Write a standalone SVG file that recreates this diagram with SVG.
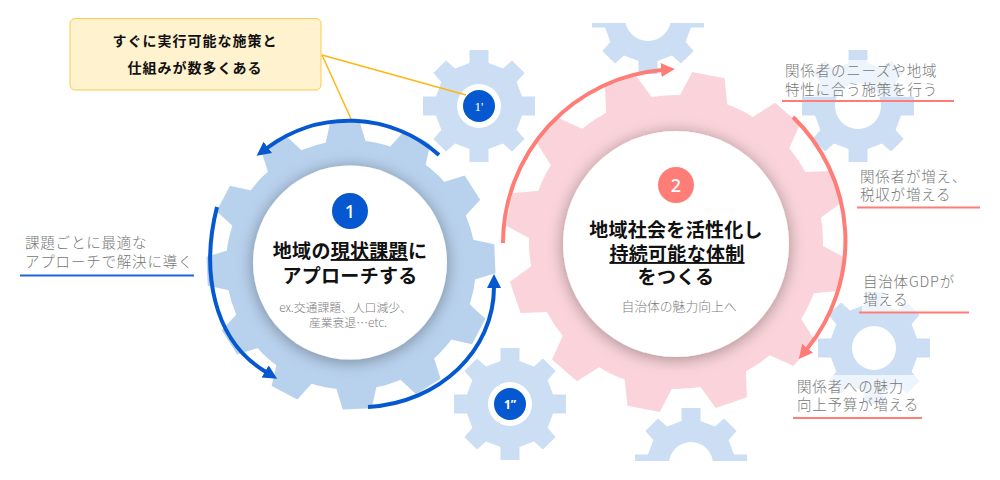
<svg xmlns="http://www.w3.org/2000/svg" width="1000" height="480" viewBox="0 0 1000 480">
<style>
text{font-family:"Noto Sans CJK JP","Noto Sans",sans-serif}
.sg{fill:#cbdef4}
.hole{fill:#fff}
.title{font-size:19px;font-weight:700;fill:#111;text-anchor:middle;letter-spacing:.3px}
.sub{fill:#7c7c7c;text-anchor:middle;font-weight:300}
.lab{font-size:14.500px;fill:#777;font-weight:300;letter-spacing:.8px}
.badge{fill:#fff;text-anchor:middle;font-family:"Noto Sans",sans-serif;font-weight:500}
.bl{stroke:#0558cf;fill:none;stroke-width:4}
.rl{stroke:#ff7d77;fill:none;stroke-width:4}
.ul{fill:none;stroke-width:2}
.wash{fill:#fff;opacity:.65}
.call{stroke:#ffb612;stroke-width:1.500;fill:none}
.calltext{font-size:14px;font-weight:700;fill:#111;text-anchor:middle;letter-spacing:1px}
</style>
<defs>
<clipPath id="page"><rect x="0" y="23" width="1000" height="438"/></clipPath>
<filter id="sh" x="-30%" y="-30%" width="160%" height="160%"><feDropShadow dx="0" dy="2" stdDeviation="8" flood-color="#000" flood-opacity=".35"/></filter>
<marker id="ab" markerUnits="userSpaceOnUse" markerWidth="20" markerHeight="20" refX="1" refY="8" orient="auto"><path d="M0,1L14,8L0,15z" fill="#0558cf"/></marker>
<marker id="ar" markerUnits="userSpaceOnUse" markerWidth="20" markerHeight="20" refX="1" refY="8" orient="auto"><path d="M0,1L14,8L0,15z" fill="#ff7d77"/></marker>
<path id="g8" d="M-9.500,-56L9.500,-56L9.500,-43L24,-37.600L33,-45.600L45.600,-33L37.600,-24L43,-9.500L56,-9.500L56,9.500L43,9.500L37.600,24L45.600,33L33,45.600L24,37.600L9.500,43L9.500,56L-9.500,56L-9.500,43L-24,37.600L-33,45.600L-45.600,33L-37.600,24L-43,9.500L-56,9.500L-56,-9.500L-43,-9.500L-37.600,-24L-45.600,-33L-33,-45.600L-24,-37.600L-9.500,-43z"/>
<path id="t1" d="M-20,-123L-14.500,-144L14.500,-144L20,-123L20,0L-20,0z"/>
<path id="t2" d="M-24,-145L-16.500,-170L16.500,-170L24,-145L24,0L-24,0z"/>
</defs>
<g clip-path="url(#page)">
<g id="gear-top" class="sg"><use href="#g8" transform="translate(648,18)"/><circle class="hole" cx="648" cy="18" r="23"/></g>
<g id="gear-right-upper" class="sg"><use href="#g8" transform="translate(858,106)"/><circle class="hole" cx="858" cy="106" r="23"/></g>
<g id="gear-right-lower" class="sg"><use href="#g8" transform="translate(874,348)"/><circle class="hole" cx="874" cy="348" r="22"/></g>
<g id="gear-bottom" class="sg"><use href="#g8" transform="translate(691,464)"/><circle class="hole" cx="691" cy="464" r="22"/></g>
</g>
<g id="gear-1a" class="sg"><use href="#g8" transform="translate(479,106)"/><circle class="hole" cx="479" cy="106" r="22"/><circle cx="479" cy="106" r="16" fill="#0558cf"/><text class="badge" x="479" y="110.500" font-size="13" style="font-family:'Liberation Serif',serif;font-weight:400">1'</text></g>
<g id="gear-1b" class="sg"><use href="#g8" transform="translate(510,404)"/><circle class="hole" cx="510" cy="404" r="22"/><circle cx="510" cy="404" r="16" fill="#0558cf"/><text class="badge" x="510" y="409" font-size="12" style="font-weight:700">1”</text></g>
<g id="gear-1">
<g fill="#b8d1ed">
<circle cx="351" cy="265" r="125"/>
<use href="#t1" transform="translate(351,265) rotate(-2.500)"/><use href="#t1" transform="translate(351,265) rotate(27.500)"/><use href="#t1" transform="translate(351,265) rotate(57.500)"/><use href="#t1" transform="translate(351,265) rotate(87.500)"/><use href="#t1" transform="translate(351,265) rotate(117.500)"/><use href="#t1" transform="translate(351,265) rotate(147.500)"/><use href="#t1" transform="translate(351,265) rotate(177.500)"/><use href="#t1" transform="translate(351,265) rotate(207.500)"/><use href="#t1" transform="translate(351,265) rotate(237.500)"/><use href="#t1" transform="translate(351,265) rotate(267.500)"/><use href="#t1" transform="translate(351,265) rotate(297.500)"/><use href="#t1" transform="translate(351,265) rotate(327.500)"/>
</g>
<circle cx="350" cy="262.500" r="97" fill="#fff" filter="url(#sh)"/>
<circle cx="350" cy="211" r="18" fill="#0558cf"/>
<text class="badge" x="350" y="217.500" font-size="18">1</text>
<text class="title" x="350" y="258">地域の<tspan text-decoration="underline">現状課題</tspan>に</text>
<text class="title" x="350" y="283">アプローチする</text>
<text class="sub" x="345.500" y="312" font-size="11.800">ex.交通課題、人口減少、</text>
<text class="sub" x="348" y="327" font-size="11.800">産業衰退…etc.</text>
</g>
<g id="gear-2">
<g fill="#fad4da">
<circle cx="676" cy="242" r="147"/>
<use href="#t2" transform="translate(676,242) rotate(11)"/><use href="#t2" transform="translate(676,242) rotate(41)"/><use href="#t2" transform="translate(676,242) rotate(71)"/><use href="#t2" transform="translate(676,242) rotate(101)"/><use href="#t2" transform="translate(676,242) rotate(131)"/><use href="#t2" transform="translate(676,242) rotate(161)"/><use href="#t2" transform="translate(676,242) rotate(191)"/><use href="#t2" transform="translate(676,242) rotate(221)"/><use href="#t2" transform="translate(676,242) rotate(251)"/><use href="#t2" transform="translate(676,242) rotate(281)"/><use href="#t2" transform="translate(676,242) rotate(311)"/><use href="#t2" transform="translate(676,242) rotate(341)"/>
</g>
<circle cx="676" cy="244" r="113" fill="#fff" filter="url(#sh)"/>
<circle cx="676" cy="185" r="18" fill="#ff7d77"/>
<text class="badge" x="676" y="191.500" font-size="18">2</text>
<text class="title" x="676" y="237">地域社会を活性化し</text>
<text class="title" x="677" y="261"><tspan text-decoration="underline">持続可能な体制</tspan></text>
<text class="title" x="676" y="284">をつくる</text>
<text class="sub" x="679" y="311" font-size="12.800">自治体の魅力向上へ</text>
</g>
<g id="connectors">
<path class="call" d="M322,55L466,95"/>
<path class="call" d="M322,55L352,121"/>
<path class="bl" marker-end="url(#ab)" d="M439,155A136,136 0 0 0 267,148"/>
<path class="bl" marker-end="url(#ab)" d="M217,207C201,270 212,340 266,372"/>
<path class="bl" marker-end="url(#ab)" d="M368,407C440,403 494,350 494,287"/>
<path class="rl" marker-end="url(#ar)" d="M503,243A174,174 0 0 1 662,70"/>
<path class="rl" marker-end="url(#ar)" d="M793,117A172,172 0 0 1 807,349"/>
</g>
<g id="callout">
<rect x="70" y="18.500" width="251" height="71.500" rx="5" fill="#fff2cf" stroke="#ffc94d"/>
<text class="calltext" x="195" y="46">すぐに実行可能な施策と</text>
<text class="calltext" x="195" y="73">仕組みが数多くある</text>
</g>
<g id="label-left">
<text class="lab" x="25" y="248">課題ごとに最適な</text>
<text class="lab" x="25" y="267">アプローチで解決に導く</text>
<line class="ul" x1="20" y1="275.500" x2="194" y2="275.500" stroke="#1a66d6"/>
</g>
<g id="label-r1">
<rect class="wash" x="785" y="60" width="155" height="37"/>
<text class="lab" x="785" y="76">関係者のニーズや地域</text>
<text class="lab" x="785" y="95">特性に合う施策を行う</text>
<line class="ul" x1="782" y1="101" x2="954" y2="101" stroke="#ff7d77"/>
</g>
<g id="label-r2">
<text class="lab" x="860" y="182">関係者が増え、</text>
<text class="lab" x="860" y="200">税収が増える</text>
<line class="ul" x1="857" y1="207.500" x2="980" y2="207.500" stroke="#ff7d77"/>
</g>
<g id="label-r3">
<rect class="wash" x="862" y="272" width="110" height="40"/>
<text class="lab" x="863" y="287">自治体GDPが</text>
<text class="lab" x="863" y="305">増える</text>
<line class="ul" x1="859" y1="312.500" x2="969" y2="312.500" stroke="#ff7d77"/>
</g>
<g id="label-r4">
<rect class="wash" x="796" y="375" width="125" height="42"/>
<text class="lab" x="797" y="392">関係者への魅力</text>
<text class="lab" x="797" y="410">向上予算が増える</text>
<line class="ul" x1="793" y1="418" x2="922" y2="418" stroke="#ff7d77"/>
</g>
</svg>
